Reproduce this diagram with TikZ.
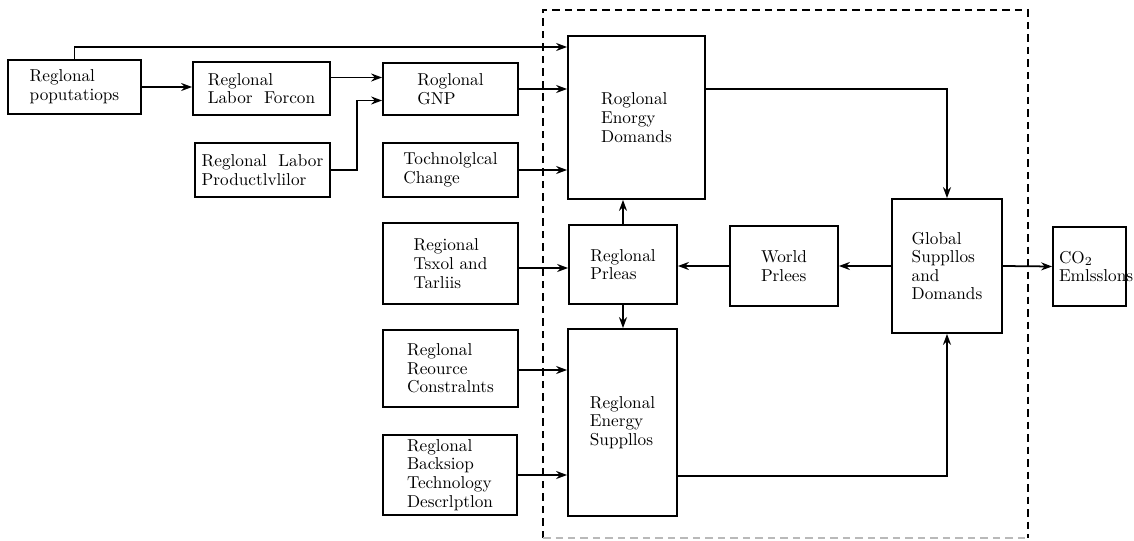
\documentclass[tikz,border=0pt]{standalone}
\usepackage{tikz}
\usetikzlibrary{positioning, arrows.meta}

\begin{document}
\begin{tikzpicture}[
            x=0.02cm, y=-0.02cm,
            % --- Styles for the nodes ---
            block/.style={
                draw, line width=1pt, rectangle, inner sep=0pt, align=left,
                font=\fontsize{9.8}{10.6}\selectfont
            },
            size/.style 2 args={minimum width=#1*0.02cm, minimum height=#2*0.02cm},
            arr/.style={line width=1pt, -{Stealth[length=2.2mm, width=1.6mm]}},
            dashbox/.style={line width=1.1pt, dash pattern=on 0.15cm off 0.1cm}
        ]

        \useasboundingbox (0,0) rectangle (1134,541);

        % --- Boundary of the model ---
        \draw[dashbox] (543,538) -- (543,10) -- (1028,10) -- (1028,538);
        \draw[dashbox, gray!55, line width=0.7pt] (543,538) -- (1028,538);

        % --- Exogenous inputs ---
        \node[block, size={133}{54}] (pop) at (74.5,87) {Reglonal\\poputatiops};
        \node[block, size={137}{53}] (labf) at (261.5,88.5) {Reglonal\\Labor~ Forcon};
        \node[block, size={135}{54}] (labp) at (262.5,170) {Reglonal~ Labor\\Productlvlilor};
        \node[block, size={135}{52}] (gnp) at (450.5,89) {Roglonal\\GNP};
        \node[block, size={135}{54}] (tech) at (450.5,170) {Tochnolglcal\\Change};
        \node[block, size={135}{81}] (tax) at (450.5,263.5) {Regional\\Tsxol and\\Tarliis};
        \node[block, size={135}{77}] (res) at (450.5,368.5) {Reglonal\\Reource\\Constralnts};
        \node[block, size={134}{80}] (back) at (450,475) {Reglonal\\Backsiop\\Technology\\Descrlptlon};

        % --- Model blocks ---
        \node[block, size={137}{163}] (dem) at (636.5,117.5) {Roglonal\\Enorgy\\Domands};
        \node[block, size={108}{79}] (rprice) at (623,264.5) {Reglonal\\Prleas};
        \node[block, size={109}{187}] (sup) at (622.5,422.5) {Reglonal\\Energy\\Suppllos};
        \node[block, size={108}{80}] (world) at (784,266) {World\\Prlees};
        \node[block, size={110}{134}] (glob) at (947,266) {Global\\Suppllos\\and\\Domands};

        % --- Output ---
        \node[block, size={73}{79}] (co2) at (1089.5,266.5) {};
        \node[block, draw=none, anchor=west] (co2text) at ([xshift=0.12cm]co2.west) {CO$_2$\\Emlsslons};

        % --- Input arrows ---
        \coordinate (popin) at (dem.west |- 0,47);
        \coordinate (gnpa) at ([yshift=0.23cm]gnp.west);
        \coordinate (gnpb) at ([yshift=-0.23cm]gnp.west);
        \draw[arr] (pop.north) |- (popin);
        \draw[arr] (pop.east) -- (pop.east -| labf.west);
        \draw[arr] (labf.east |- gnpa) -- (gnpa);
        \draw[arr] (labp.east) -| ([xshift=-0.5cm]gnpb) -- (gnpb);
        \draw[arr] (gnp.east) -- (gnp.east -| dem.west);
        \draw[arr] (tech.east) -- (tech.east -| dem.west);
        \draw[arr] ([yshift=-0.09cm]tax.east) -- ([yshift=-0.09cm]tax.east -| rprice.west);
        \draw[arr] ([yshift=-0.03cm]res.east) -- ([yshift=-0.03cm]res.east -| sup.west);
        \draw[arr] (back.east) -- (back.east -| sup.west);

        % --- Internal arrows ---
        \draw[arr] (rprice.north) -- (rprice.north |- dem.south);
        \draw[arr] (rprice.south) -- (rprice.south |- sup.north);
        \draw[arr] ([yshift=0.57cm]dem.east) -| (glob.north);
        \draw[arr] ([yshift=-1.07cm]sup.east) -| (glob.south);
        \draw[arr] (glob.west) -- (world.east);
        \draw[arr] (world.west) -- (world.west -| rprice.east);
        \draw[arr] (glob.east) -- (co2.west);

        \end{tikzpicture}
\end{document}
